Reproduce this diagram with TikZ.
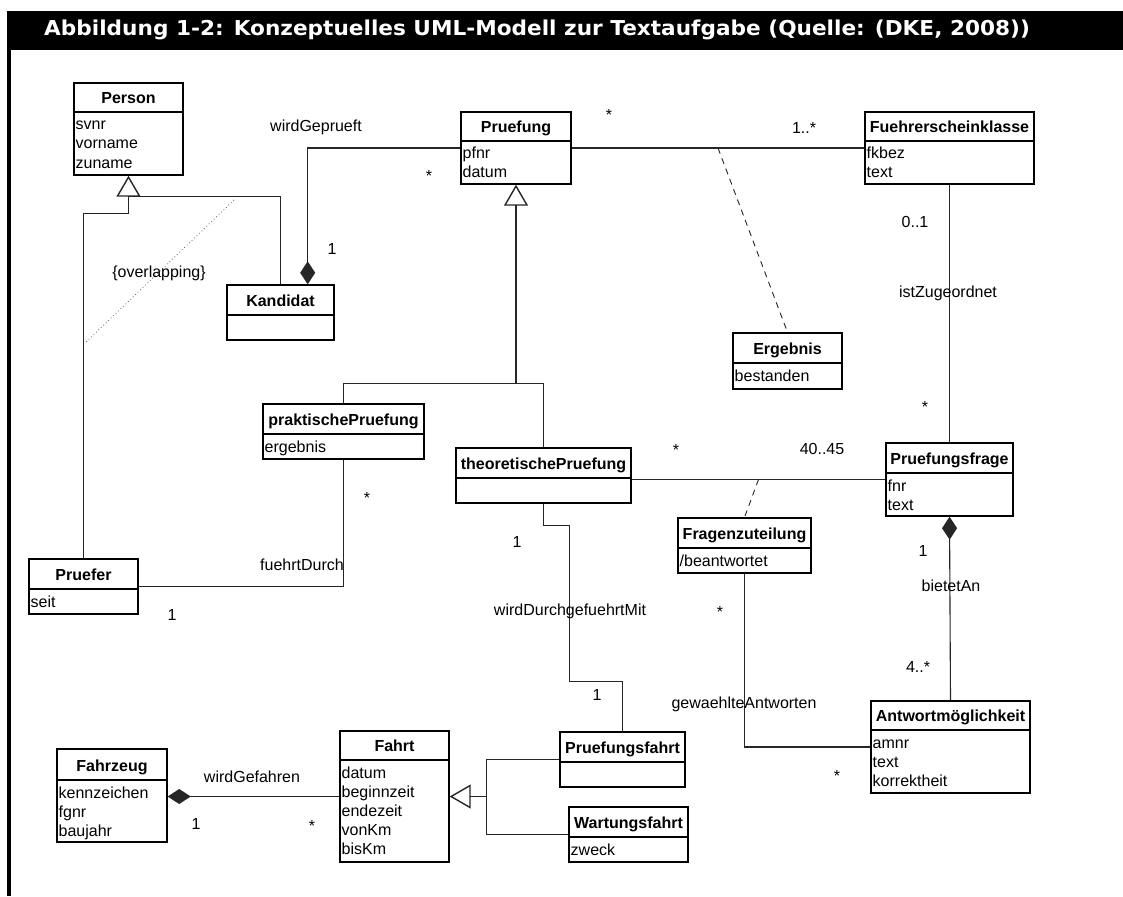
\documentclass[tikz,border=0pt]{standalone}
\usepackage{graphicx}
\usepackage{fontspec}
\setmainfont{Liberation Sans}
\newfontfamily\titlefont{DejaVu Sans}
\usetikzlibrary{arrows.meta,calc}

\tikzset{
  classbox/.style={draw=black, line width=1.4pt, inner sep=0pt, fill=white},
  classline/.style={line width=1.4pt},
  classtitle/.style={font=\fontsize{16}{19}\selectfont\bfseries, anchor=base, inner sep=0pt},
  attr/.style={font=\fontsize{16}{19}\selectfont, anchor=base west, inner sep=0pt},
  lbl/.style={font=\fontsize{16}{19}\selectfont, anchor=base, inner sep=0pt},
  conn/.style={line width=1.1pt, draw=black!85},
  gen/.style={conn, -{Triangle[open, length=21pt, width=24pt, line width=1.4pt]}},
  comp/.style={conn, -{Diamond[length=23pt, width=15pt]}},
  assoc/.style={line width=0.9pt, draw=black!85, dash pattern=on 6pt off 5pt},
  constraint/.style={line width=0.8pt, draw=black!60, dash pattern=on 0.8pt off 2.6pt},
}

% #1 name, #2 left, #3 top, #4 right, #5 bottom, #6 divider, #7 title, #8 attributes
\newcommand\umlclass[8]{%
  \node[classbox, minimum width={(#4-#2)*1pt}, minimum height={(#5-#3)*1pt}]
    (#1) at ({(#2+#4)/2},{(#3+#5)/2}) {};
  \draw[classline] (#2,#6) -- (#4,#6);
  \node[classtitle] (#1-title) at ({(#2+#4)/2},{#6-8.5}) {#7};
  \foreach \a [count=\i from 0] in {#8} {\node[attr] at ({#2+1.5},{#6+18+19*\i}) {\a};}
}

\begin{document}
\begin{tikzpicture}[x=1pt, y=-1pt]
\useasboundingbox (0,0) rectangle (1123,896);

% frame: title bar and left rule
\fill[black] (7,11) rectangle (1123,50);
\fill[black] (7,50) rectangle (11,896);
\node[anchor=base west, inner sep=0pt, text=white,
      font=\titlefont\bfseries\fontsize{20.5}{24}\selectfont] (title) at (44,36)
  {\scalebox{1.055}[1]{Abbildung 1-2: Konzeptuelles UML-Modell zur Textaufgabe (Quelle: (DKE, 2008))}};

% classes
\umlclass{person}{74}{83}{183}{175}{112}{Person}{svnr,vorname,zuname}
\umlclass{pruefung}{461}{112}{571}{184}{141}{Pruefung}{pfnr,datum}
\umlclass{fks}{865}{112}{1034}{184}{141}{Fuehrerscheinklasse}{fkbez,text}
\umlclass{kand}{227}{285}{334}{340}{315}{Kandidat}{}
\umlclass{ergebnis}{733}{333}{842}{389}{363}{Ergebnis}{bestanden}
\umlclass{prak}{263}{404}{424}{459}{434}{praktischePruefung}{ergebnis}
\umlclass{theo}{456}{448}{631}{503}{478}{theoretischePruefung}{}
\umlclass{pfr}{886}{443}{1013}{516}{473}{Pruefungsfrage}{fnr,text}
\umlclass{fz}{678}{518}{811}{573}{548}{Fragenzuteilung}{/beantwortet}
\umlclass{pruefer}{29}{559}{138}{614}{589}{Pruefer}{seit}
\umlclass{amg}{871}{701}{1030}{793}{730}{Antwortmöglichkeit}{amnr,text,korrektheit}
\umlclass{pfahrt}{560}{732}{685}{787}{762}{Pruefungsfahrt}{}
\umlclass{wfahrt}{569}{807}{688}{862}{837}{Wartungsfahrt}{zweck}
\umlclass{fahrzeug}{57}{749}{167}{842}{780}{Fahrzeug}{kennzeichen,fgnr,baujahr}
\umlclass{fahrt}{340}{731}{449}{862}{760}{Fahrt}{datum,beginnzeit,endezeit,vonKm,bisKm}

% Person generalization
\coordinate (pjL) at ($(person.south)+(0,38)$);
\draw[gen] (pruefer.north) |- (pjL) -- (person.south);
\draw[conn] (kand.north) |- ($(person.south)+(0,21)$);
\coordinate (ov1) at (234,200);
\coordinate (ov2) at (85,343);
\draw[constraint] (ov1) -- (ov2);
\node[lbl] (ovl) at (159,277) {\{overlapping\}};

% Kandidat -- Pruefung
\draw[comp] (pruefung.west) -| ($(kand.north east)+(-27,0)$);
\node[lbl] (l-wg) at (316,132) {wirdGeprueft};
\node[lbl] (l-k1) at (332,254) {1};
\node[lbl] (l-k2) at (429,182) {*};

% Pruefung -- Fuehrerscheinklasse with Ergebnis
\draw[conn] (pruefung.east) -- (fks.west);
\draw[assoc] ($(pruefung.east)!0.5!(fks.west)$) -- (ergebnis.north);
\node[lbl] (l-p1) at (609,121) {*};
\node[lbl] (l-p2) at (804,134) {1..*};

% Pruefung generalization
\coordinate (pjR) at ($(pruefung.south)+(0,199)$);
\draw[gen] (prak.north) |- (pjR) -- (pruefung.south);
\draw[conn] (theo.north) |- (pjR);

% Fuehrerscheinklasse -- Pruefungsfrage
\draw[conn] (fks.south) -- (pfr.north);
\node[lbl] (l-f1) at (915,227) {0..1};
\node[lbl] (l-iz) at (948,297) {istZugeordnet};
\node[lbl] (l-f2) at (925,412) {*};

% praktischePruefung -- Pruefer
\draw[conn] (prak.south) |- (pruefer.east);
\node[lbl] (l-fd1) at (367,503) {*};
\node[lbl, anchor=base east] (l-fd) at (344,570) {fuehrtDurch};
\node[lbl] (l-fd2) at (172,620) {1};

% theoretischePruefung -- Pruefungsfrage with Fragenzuteilung
\draw[conn] (theo.east |- pfr.west) -- (pfr.west);
\draw[assoc] ($(theo.east |- pfr.west)!0.5!(pfr.west)$) -- (fz.north);
\node[lbl] (l-t1) at (676,455) {*};
\node[lbl] (l-t2) at (822,454) {40..45};

% theoretischePruefung -- Pruefungsfahrt
\coordinate (tw1) at ($(theo.south)+(26,22)$);
\coordinate (tw2) at ($(theo.south)+(26,178)$);
\draw[conn] (theo.south) |- (tw1) -- (tw2) -| (pfahrt.north);
\node[lbl] (l-w1) at (517,547) {1};
\node[lbl] (l-wd) at (570,615) {wirdDurchgefuehrtMit};
\node[lbl] (l-w2) at (597,700) {1};

% Fragenzuteilung -- Antwortmoeglichkeit
\draw[conn] (fz.south) |- (amg.west);
\node[lbl] (l-g1) at (720,617) {*};
\node[lbl] (l-ga) at (744,708) {gewaehlteAntworten};
\node[lbl] (l-g2) at (837,781) {*};

% Pruefungsfrage -- Antwortmoeglichkeit
\draw[comp] (amg.north) -- (pfr.south);
\node[lbl] (l-b1) at (923,556) {1};
\node[lbl] (l-ba) at (951,591) {bietetAn};
\node[lbl] (l-b2) at (918,672) {4..*};

% Fahrzeug -- Fahrt
\draw[comp] (fahrt.west) -- (fahrzeug.east |- fahrt.west);
\node[lbl] (l-wf) at (252,782) {wirdGefahren};
\node[lbl] (l-z1) at (196,829) {1};
\node[lbl] (l-z2) at (312,831) {*};

% Fahrt generalization
\coordinate (fj) at ($(fahrt.east)+(37,0)$);
\draw[gen] (pfahrt.west) -| (fj) -- (fahrt.east);
\draw[conn] (wfahrt.west) -| (fj);
\end{tikzpicture}
\end{document}
